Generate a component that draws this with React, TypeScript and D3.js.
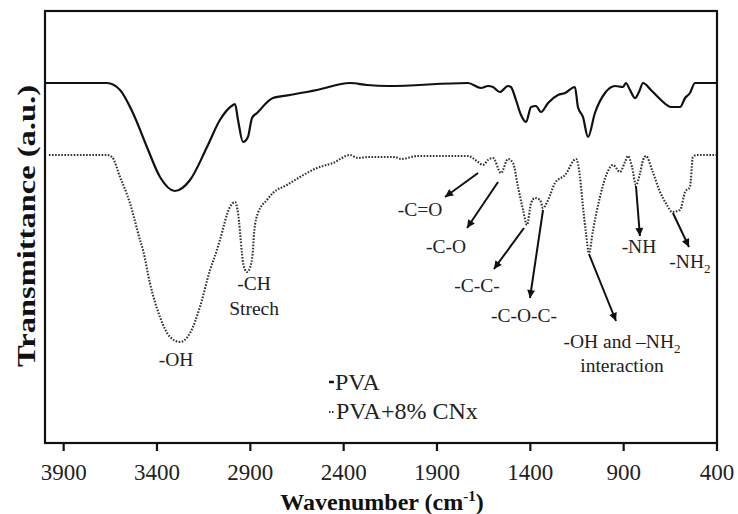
import React from 'react';
import * as d3 from 'd3';

const W = 738;
const H = 514;

// X axis
const xDomain = [4000, 400];
const xTicks = [3900, 3400, 2900, 2400, 1900, 1400, 900, 400];
const yDomain = [0, 216];

// PVA (solid)
const wnPVA = [4000, 3668, 3598, 3529, 3454, 3384, 3304, 3223, 3132, 3063, 2993, 2982, 2966, 2939, 2913, 2891, 2864, 2779, 2688, 2543, 2366, 2275, 2163, 1734, 1664, 1627, 1600, 1563, 1520, 1504, 1477, 1450, 1423, 1396, 1370, 1343, 1305, 1252, 1214, 1161, 1145, 1118, 1091, 1054, 1000, 946, 904, 888, 866, 839, 818, 796, 754, 700, 646, 598, 571, 545, 518, 400];
const tPVA = [180, 180, 176.5, 165, 148, 133, 126, 131.5, 148, 161.5, 169, 169.5, 161.5, 150.5, 153, 162.5, 165, 172.5, 174, 176.5, 180, 179, 178.5, 180, 177.5, 178.5, 178, 175.5, 178.5, 178, 171.5, 164, 160.5, 168, 168.5, 165.5, 170, 174, 175, 178, 168, 163, 153, 165, 175, 178.5, 178, 180, 176.5, 172.5, 175.5, 180, 176.5, 171.5, 168, 168, 172.5, 175, 180, 180];

// PVA + 8% CNx (dotted)
const wnCNx = [3979, 3668, 3641, 3598, 3545, 3491, 3475, 3438, 3384, 3330, 3277, 3223, 3170, 3116, 3079, 3063, 3009, 2982, 2966, 2945, 2939, 2918, 2902, 2886, 2880, 2859, 2811, 2779, 2704, 2634, 2543, 2457, 2366, 2323, 2270, 2125, 2093, 2002, 1734, 1680, 1654, 1627, 1600, 1557, 1520, 1493, 1466, 1439, 1418, 1396, 1375, 1348, 1332, 1305, 1268, 1214, 1155, 1134, 1118, 1102, 1086, 1064, 1027, 989, 957, 920, 893, 877, 855, 834, 812, 796, 780, 748, 705, 668, 641, 598, 571, 545, 529, 507, 405];
const tCNx = [144, 144, 143, 133, 120, 101.5, 96.5, 80, 63, 53, 50.5, 55, 68, 86.5, 96.5, 101.5, 118, 120.5, 115, 95, 90, 85.5, 87.5, 96.5, 105, 115, 121.5, 125, 129, 133, 137.5, 140, 144, 142.5, 143, 143, 142, 143.5, 143.5, 140.5, 139, 141.5, 142.5, 135, 142, 140, 128, 116.5, 109, 120, 122.5, 121.5, 117.5, 121.5, 130, 134, 142, 133, 118, 105, 95, 106.5, 123, 135, 139, 135.5, 140.5, 143.5, 138, 129, 135, 141.5, 143.5, 136.5, 125.5, 119, 115.5, 116.5, 125.5, 128, 143, 144, 144];

// Annotation arrows (data units: wavenumber, transmittance)
const arrowFromWn = [1680, 1573, 1434, 1332, 1086, 834, 636];
const arrowFromT = [135, 130.5, 107.5, 116.5, 94.5, 128.5, 115];
const arrowToWn = [1857, 1739, 1595, 1402, 941, 813, 550];
const arrowToT = [123, 107.5, 87, 72.5, 61, 103.5, 98];

// Annotation labels
const labelText = ['-C=O', '-C-O', '-C-C-', '-C-O-C-', '-NH', '-OH', '-CH', 'Strech', 'interaction'];
const labelWn = [1991, 1852, 1686, 1434, 818, 3298, 2880, 2880, 909];
const labelT = [113.5, 95, 75.5, 60.5, 95, 38.5, 76.5, 64, 35.5];

const legendLabels = ['PVA', 'PVA+8% CNx'];

export default function App() {
  const x = d3.scaleLinear().domain(xDomain).range([45, 717]);
  const y = d3.scaleLinear().domain(yDomain).range([443, 11]);

  const mk = (wn: number[]) =>
    d3.line<number>()
      .x((_, i) => x(wn[i]))
      .y((d) => y(d))
      .curve(d3.curveMonotoneX);

  const pvaPath = mk(wnPVA)(tPVA) || '';
  const cnxPath = mk(wnCNx)(tCNx) || '';

  const serif = '"Liberation Serif", "Times New Roman", serif';

  return (
    <svg width={W} height={H} style={{ position: 'absolute', left: 0, top: 0, background: '#fff' }} fontFamily={serif}>
      <defs>
        <marker id="ah" viewBox="0 0 10 10" refX="10" refY="5" markerUnits="userSpaceOnUse" markerWidth="9" markerHeight="8" orient="auto">
          <path d="M0,0 L10,5 L0,10 z" fill="#111" />
        </marker>
      </defs>

      {/* curves */}
      <path d={cnxPath} fill="none" stroke="#333" strokeWidth={2.1} strokeDasharray="1.6 1.5" />
      <path d={pvaPath} fill="none" stroke="#111" strokeWidth={2.2} strokeLinejoin="round" />

      {/* frame */}
      <rect x={45} y={11} width={672} height={432} fill="none" stroke="#111" strokeWidth={2.2} />

      {/* ticks */}
      {xTicks.map((t) => (
        <g key={t}>
          <line x1={x(t)} x2={x(t)} y1={443} y2={451} stroke="#111" strokeWidth={2.2} />
          <text x={x(t)} y={480} textAnchor="middle" fontSize={23} fill="#222">{t}</text>
        </g>
      ))}

      {/* axis titles */}
      <text x={382} y={510} textAnchor="middle" fontSize={24} fontWeight="bold" fill="#111">
        Wavenumber (cm<tspan dy={-9} fontSize={15}>-1</tspan><tspan dy={9}>)</tspan>
      </text>
      <text transform="translate(35,226) rotate(-90)" textAnchor="middle" fontSize={26} fontWeight="bold" fill="#111" textLength={282} lengthAdjust="spacingAndGlyphs">
        Transmittance (a.u.)
      </text>

      {/* arrows */}
      {arrowFromWn.map((w, i) => (
        <line key={'a' + i} x1={x(w)} y1={y(arrowFromT[i])} x2={x(arrowToWn[i])} y2={y(arrowToT[i])} stroke="#111" strokeWidth={2} markerEnd="url(#ah)" />
      ))}

      {/* labels */}
      {labelText.map((s, i) => (
        <text key={'l' + i} x={x(labelWn[i])} y={y(labelT[i])} textAnchor="middle" fontSize={19.5} fill="#222">{s}</text>
      ))}
      <text x={x(909)} y={y(47.5)} textAnchor="middle" fontSize={19.5} fill="#222">
        -OH and –NH<tspan dy={5} fontSize={13}>2</tspan>
      </text>
      <text x={x(545)} y={y(87.5)} textAnchor="middle" fontSize={19.5} fill="#222">
        -NH<tspan dy={5} fontSize={13}>2</tspan>
      </text>

      {/* legend */}
      <line x1={329} x2={334} y1={382} y2={382} stroke="#111" strokeWidth={2.5} />
      <text x={335} y={390} fontSize={24} fill="#222">{legendLabels[0]}</text>
      <line x1={329} x2={335} y1={412} y2={412} stroke="#333" strokeWidth={1.8} strokeDasharray="1.5 1.5" />
      <text x={336} y={419} fontSize={24} fill="#222">{legendLabels[1]}</text>
    </svg>
  );
}
